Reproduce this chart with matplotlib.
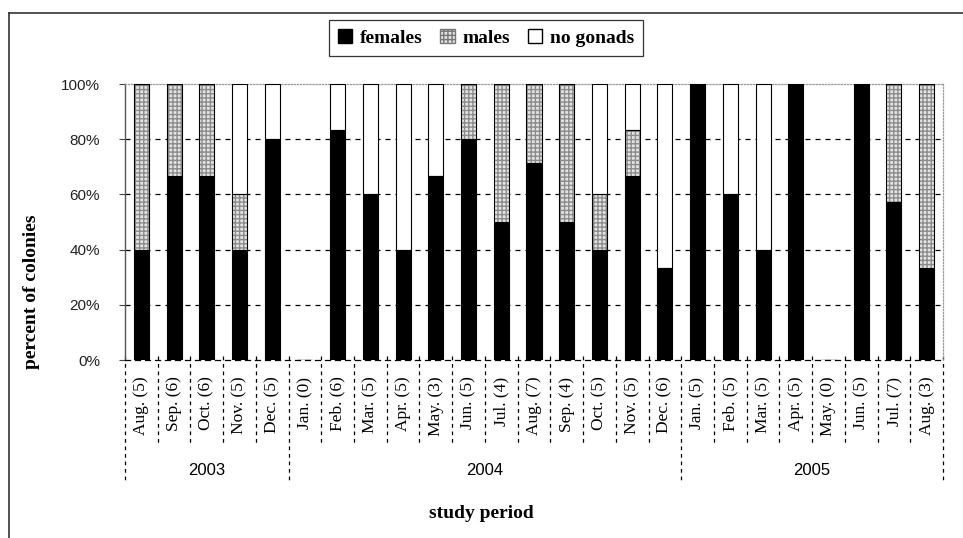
import numpy as np
import matplotlib.pyplot as plt
import matplotlib.transforms as mtransforms
from matplotlib.lines import Line2D
from matplotlib.patches import Patch

# data (percent of colonies per month, n in brackets)
months = ["Aug.", "Sep.", "Oct.", "Nov.", "Dec.",
          "Jan.", "Feb.", "Mar.", "Apr.", "May.", "Jun.", "Jul.", "Aug.", "Sep.", "Oct.", "Nov.", "Dec.",
          "Jan.", "Feb.", "Mar.", "Apr.", "May.", "Jun.", "Jul.", "Aug."]
counts = [5, 6, 6, 5, 5, 0, 6, 5, 5, 3, 5, 4, 7, 4, 5, 5, 6, 5, 5, 5, 5, 0, 5, 7, 3]
females = [40, 66.7, 66.7, 40, 80, 0, 83.3, 60, 40, 66.7, 80, 50, 71.4, 50, 40, 66.7, 33.3,
           100, 60, 40, 100, 0, 100, 57.1, 33.3]
males = [60, 33.3, 33.3, 20, 0, 0, 0, 0, 0, 0, 20, 50, 28.6, 50, 20, 16.7, 0,
         0, 0, 0, 0, 0, 0, 42.9, 66.7]
no_gonads = [0, 0, 0, 40, 20, 0, 16.7, 40, 60, 33.3, 0, 0, 0, 0, 40, 16.6, 66.7,
             0, 40, 60, 0, 0, 0, 0, 0]
years = ["2003", "2004", "2005"]
months_per_year = [5, 12, 8]

serif = "Liberation Serif"
sans = "Liberation Sans"

W, H = 963, 538
fig = plt.figure(figsize=(W / 100, H / 100), dpi=100)
ax = fig.add_axes([125 / W, 1 - 360 / H, (943 - 125) / W, (360 - 84) / H])

n = len(months)
x = np.arange(n)
fem = np.array(females)
mal = np.array(males)
non = np.array(no_gonads)
bw = 0.46

ax.bar(x, fem, bw, color="black", edgecolor="black", linewidth=0.8, zorder=3)
# males: grey dotted fill, then black outline on top
ax.bar(x, mal, bw, bottom=fem, color="#e4e4e4", edgecolor="#8c8c8c", hatch="++++",
       linewidth=0, zorder=3)
ax.bar(x, mal, bw, bottom=fem, fill=False, edgecolor="black", linewidth=0.8, zorder=4)
ax.bar(x, non, bw, bottom=fem + mal, color="white", edgecolor="black", linewidth=0.8, zorder=3)

ax.set_xlim(-0.5, n - 0.5)
ax.set_ylim(0, 100)
ax.set_yticks(np.arange(0, 101, 20))
ax.set_yticklabels([f"{v}%" for v in range(0, 101, 20)], fontfamily=sans, fontsize=11,
                   color="#222")
ax.tick_params(axis="y", length=4, width=0.8, pad=14, color="#444")
ax.set_xticks([])

for v in range(20, 100, 20):
    ax.axhline(v, color="black", lw=0.9, ls=(0, (4, 4)), zorder=1)

ax.spines["left"].set_color("#555")
ax.spines["left"].set_linewidth(1.0)
ax.spines["bottom"].set_linestyle((0, (4, 4)))
ax.spines["bottom"].set_linewidth(0.9)
for s in ["top", "right"]:
    ax.spines[s].set_linestyle((0, (1, 1.5)))
    ax.spines[s].set_color("#9a9a9a")
    ax.spines[s].set_linewidth(0.9)

# multi-level category axis
tr = mtransforms.blended_transform_factory(ax.transData, ax.transAxes)
for i in range(n):
    ax.text(x[i], -0.06, f"{months[i]} ({counts[i]})", transform=tr, rotation=90,
            ha="center", va="top", fontfamily=serif, fontsize=12.5)

year_edges = np.concatenate([[0], np.cumsum(months_per_year)]) - 0.5
for b in range(n + 1):
    pos = b - 0.5
    low = -0.446 if pos in year_edges else -0.30
    ax.plot([pos, pos], [0.015, low], transform=tr, clip_on=False, color="black",
            lw=0.9, ls=(0, (3, 3)))
for k, yr in enumerate(years):
    ax.text((year_edges[k] + year_edges[k + 1]) / 2, -0.40, yr, transform=tr,
            ha="center", va="center", fontfamily=sans, fontsize=12)

fig.text(481 / W, 1 - 514 / H, "study period", ha="center", va="center",
         fontfamily=serif, fontweight="bold", fontsize=14)
fig.text(31 / W, 1 - 292 / H, "percent of colonies", ha="center", va="center",
         rotation=90, fontfamily=serif, fontweight="bold", fontsize=14)

handles = [Patch(facecolor="black", edgecolor="black"),
           Patch(facecolor="#e4e4e4", edgecolor="#777", hatch="++++"),
           Patch(facecolor="white", edgecolor="black")]
leg = fig.legend(handles, ["females", "males", "no gonads"], loc="center",
                 bbox_to_anchor=(486 / W, 1 - 38 / H), ncol=3, frameon=True,
                 fancybox=False, edgecolor="black", handlelength=0.75, handleheight=0.75,
                 handletextpad=0.4, columnspacing=0.9, borderpad=0.45,
                 prop={"family": serif, "weight": "bold", "size": 14})
leg.get_frame().set_linewidth(0.9)

# outer frame (left and top edges only)
fig.add_artist(Line2D([9 / W, 9 / W], [0, 1 - 13 / H], transform=fig.transFigure,
                      color="#333", lw=1.2))
fig.add_artist(Line2D([9 / W, 1], [1 - 13 / H, 1 - 13 / H], transform=fig.transFigure,
                      color="#333", lw=1.2))

fig.savefig("out.png", dpi=100)
